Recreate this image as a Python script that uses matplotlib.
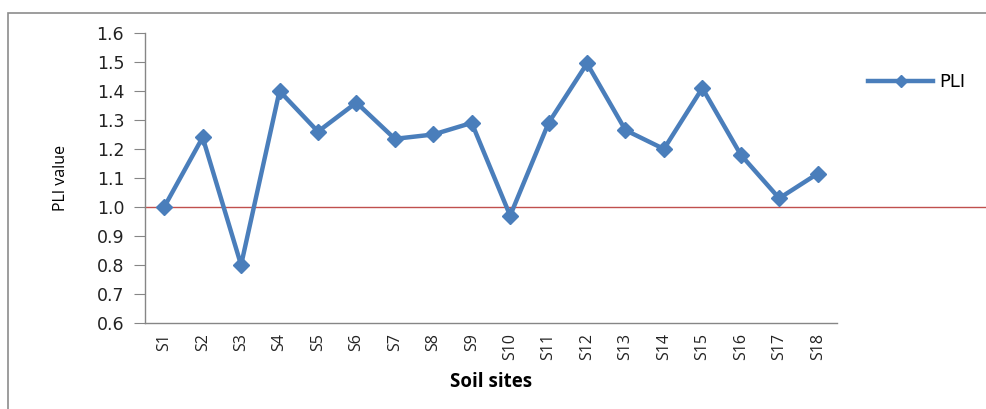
import matplotlib
matplotlib.use("Agg")
import matplotlib.pyplot as plt
from matplotlib.patches import Rectangle

# PLI values per soil site
sites = ["S%d" % i for i in range(1, 19)]
pli = [1.00, 1.24, 0.80, 1.40, 1.26, 1.36, 1.235, 1.25, 1.29,
       0.97, 1.29, 1.495, 1.265, 1.20, 1.41, 1.18, 1.03, 1.115]
y_ticks = [0.6, 0.7, 0.8, 0.9, 1.0, 1.1, 1.2, 1.3, 1.4, 1.5, 1.6]
threshold = 1.0

blue = "#4A7EBB"
axis_gray = "#868686"

fig = plt.figure(figsize=(9.87, 4.09), dpi=100)
ax = fig.add_axes([0.1469, 0.2103, 0.701, 0.709])

x = list(range(len(sites)))
ax.plot(x, pli, color=blue, linewidth=3.2, marker="D", markersize=8,
        label="PLI", zorder=3)

# reference line at PLI = 1, runs past the plot area to the edge
ax.axhline(threshold, xmin=0, xmax=1.22, color="#C0504D", linewidth=1.0,
           clip_on=False, zorder=2)

ax.set_xlim(-0.5, len(sites) - 0.5)
ax.set_ylim(0.6, 1.6)
ax.set_yticks(y_ticks)
ax.set_yticklabels(["%.1f" % v for v in y_ticks], fontsize=12.5,
                   family="DejaVu Sans", color="#222222")
ax.set_xticks(x)
ax.set_xticklabels(sites, rotation=90, fontsize=11.5,
                   family="Open Sans", color="#222222")

for side in ["top", "right"]:
    ax.spines[side].set_visible(False)
for side in ["left", "bottom"]:
    ax.spines[side].set_color(axis_gray)
    ax.spines[side].set_linewidth(1.0)
ax.tick_params(axis="y", direction="out", length=8, color=axis_gray, pad=7)
ax.tick_params(axis="x", length=0, pad=7)

ax.set_ylabel("PLI value", fontsize=11.5, family="Open Sans", labelpad=20)
ax.set_xlabel("Soil sites", fontsize=13.5, family="Open Sans",
              fontweight="bold", labelpad=9)

ax.legend(loc="center left", bbox_to_anchor=(1.022, 0.83), frameon=False,
          handlelength=3.6, handletextpad=0.3, markerscale=0.8,
          prop={"family": "DejaVu Sans", "size": 13})

# chart frame (only left and top edges visible in the reference)
fig.patches.append(Rectangle((8 / 987, -0.1), 1.2, 1 - 13 / 409 + 0.1,
                             transform=fig.transFigure, fill=False,
                             edgecolor="#8C8C8C", linewidth=1.2))

fig.savefig("out.png", dpi=100)
